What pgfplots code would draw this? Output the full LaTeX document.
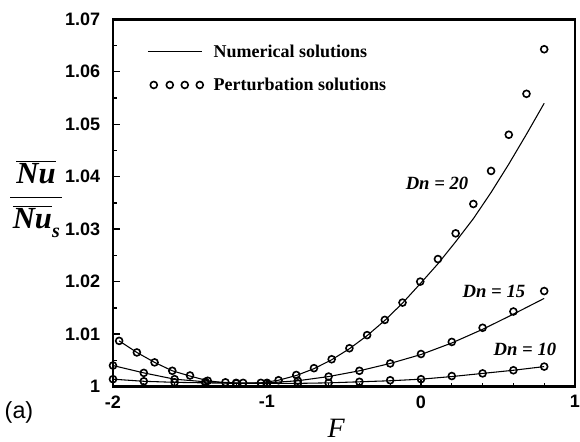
\documentclass[border=0pt]{standalone}
\usepackage{fontspec}
\setmainfont{Liberation Serif}
\newfontfamily\sansf{Liberation Sans}
\usepackage{pgfplots}
\pgfplotsset{compat=1.18}
\pgfplotsset{
  numleg/.style={legend image code/.code={\draw[##1] (0pt,0pt) -- (41pt,0pt);}},
  perleg/.style={legend image code/.code={\draw[##1] plot coordinates {(4.5pt,0pt) (16.5pt,0pt) (27.75pt,0pt) (39pt,0pt)};}},
}
\begin{document}
\begin{tikzpicture}
\begin{axis}[
  at={(0,0)}, anchor=south west,
  scale only axis, width=346.5pt, height=275.4pt,
  xmin=-2, xmax=1, ymin=1, ymax=1.07,
  clip=false,
  axis line style={line width=1.8pt},
  tick pos=left, tick align=inside,
  xtick={-2,-1,0,1}, xticklabels={-2,-1,0,1},
  ytick={1,1.01,1.02,1.03,1.04,1.05,1.06,1.07},
  yticklabels={1,1.01,1.02,1.03,1.04,1.05,1.06,1.07},
  minor x tick num=4, minor y tick num=1,
  major tick length=5pt, minor tick length=3pt,
  every tick/.style={black, line width=1pt},
  tick label style={font=\sansf\bfseries\fontsize{13.5}{13.5}\selectfont, inner sep=0pt},
  xticklabel style={anchor=north, yshift=-6.5pt},
  yticklabel style={anchor=east, xshift=-9.5pt},
  legend style={draw=none, fill=none, at={(0.0736,0.932)}, anchor=north west,
    inner sep=0pt, font=\bfseries\fontsize{13.5}{13.5}\selectfont,
    nodes={inner sep=0pt}, cells={anchor=west}, row sep=14pt,
    /tikz/every odd column/.append style={column sep=7.75pt}},
  legend cell align=left,
]
% Dn = 20 numerical
\addplot[black, line width=0.8pt, mark=none, numleg] coordinates {
(-1.960,1.0087) (-1.845,1.0065) (-1.730,1.0046) (-1.615,1.0030) (-1.500,1.0020)
(-1.385,1.0011) (-1.270,1.0007) (-1.155,1.0006) (-1.040,1.0007) (-0.925,1.0012)
(-0.810,1.0021) (-0.695,1.0034) (-0.580,1.0051) (-0.465,1.0072) (-0.350,1.0097)
(-0.235,1.0126) (-0.120,1.0159) (-0.005,1.0196) (0.110,1.0234) (0.225,1.0276)
(0.340,1.0320) (0.455,1.0370) (0.570,1.0424) (0.685,1.0481) (0.800,1.0540)};
\addlegendentry{Numerical solutions}
% Dn = 20 perturbation
\addplot[black, only marks, mark=o, mark size=2.6pt, mark options={line width=1.2pt}, perleg] coordinates {
(-1.960,1.0087) (-1.845,1.0065) (-1.730,1.0046) (-1.615,1.0030) (-1.500,1.0021)
(-1.385,1.0011) (-1.270,1.0008) (-1.155,1.0007) (-1.040,1.0007) (-0.925,1.0012)
(-0.810,1.0022) (-0.695,1.0035) (-0.580,1.0052) (-0.465,1.0073) (-0.350,1.0098)
(-0.235,1.0127) (-0.120,1.0160) (-0.005,1.0200) (0.110,1.0243) (0.225,1.0292)
(0.340,1.0348) (0.455,1.0411) (0.570,1.0480) (0.685,1.0558) (0.800,1.0643)};
\addlegendentry{Perturbation solutions}
% Dn = 15 numerical
\addplot[black, line width=0.8pt, mark=none, forget plot] coordinates {
(-2.0,1.0040) (-1.8,1.0026) (-1.6,1.0014) (-1.4,1.0009) (-1.2,1.0007) (-1.0,1.0007)
(-0.8,1.0011) (-0.6,1.0019) (-0.4,1.0030) (-0.2,1.0044) (0.0,1.0061) (0.2,1.0083)
(0.4,1.0109) (0.6,1.0138) (0.8,1.0168)};
% Dn = 15 perturbation
\addplot[black, only marks, mark=o, mark size=2.6pt, mark options={line width=1.2pt}, forget plot] coordinates {
(-2.0,1.0040) (-1.8,1.0026) (-1.6,1.0014) (-1.4,1.0009) (-1.2,1.0007) (-1.0,1.0007)
(-0.8,1.0011) (-0.6,1.0019) (-0.4,1.0030) (-0.2,1.0044) (0.0,1.0062) (0.2,1.0085)
(0.4,1.0112) (0.6,1.0143) (0.8,1.0182)};
% Dn = 10 numerical
\addplot[black, line width=0.8pt, mark=none, forget plot] coordinates {
(-2.0,1.0014) (-1.8,1.0010) (-1.6,1.0008) (-1.4,1.0007) (-1.2,1.0006) (-1.0,1.0006)
(-0.8,1.0006) (-0.6,1.0007) (-0.4,1.0009) (-0.2,1.0011) (0.0,1.0014) (0.2,1.0019)
(0.4,1.0025) (0.6,1.0031) (0.8,1.0038)};
% Dn = 10 perturbation
\addplot[black, only marks, mark=o, mark size=2.6pt, mark options={line width=1.2pt}, forget plot] coordinates {
(-2.0,1.0014) (-1.8,1.0010) (-1.6,1.0008) (-1.4,1.0007) (-1.2,1.0006) (-1.0,1.0006)
(-0.8,1.0006) (-0.6,1.0007) (-0.4,1.0009) (-0.2,1.0012) (0.0,1.0014) (0.2,1.0020)
(0.4,1.0025) (0.6,1.0031) (0.8,1.0038)};

\node[font=\bfseries\itshape\fontsize{14}{14}\selectfont] at (axis cs:0.104,1.0388) {Dn = 20};
\node[font=\bfseries\itshape\fontsize{14}{14}\selectfont] at (axis cs:0.474,1.0182) {Dn = 15};
\node[font=\bfseries\itshape\fontsize{14}{14}\selectfont] at (axis cs:0.675,1.0070) {Dn = 10};

\node[font=\itshape\fontsize{21}{21}\selectfont] at (axis cs:-0.55,1) [yshift=-31.1pt] {F};
\node[font=\sansf\fontsize{17.5}{17.5}\selectfont] at (axis cs:-2,1) [xshift=-70.5pt, yshift=-19.1pt] {(a)};
\node[font=\bfseries\itshape\fontsize{23}{27}\selectfont, inner sep=0pt] at (axis cs:-2,1.0357) [xshift=-57.75pt]
  {$\displaystyle\frac{\kern2pt\overline{\hbox{Nu}}\kern2pt}{\kern2pt\overline{\hbox{Nu}}_{\raise-3pt\hbox{\fontsize{15}{15}\selectfont\bfseries\itshape s}}\kern1pt}$};
\end{axis}
\path (-84.75pt,-40.1pt) rectangle (350.25pt,289.9pt);
\end{tikzpicture}
\end{document}
